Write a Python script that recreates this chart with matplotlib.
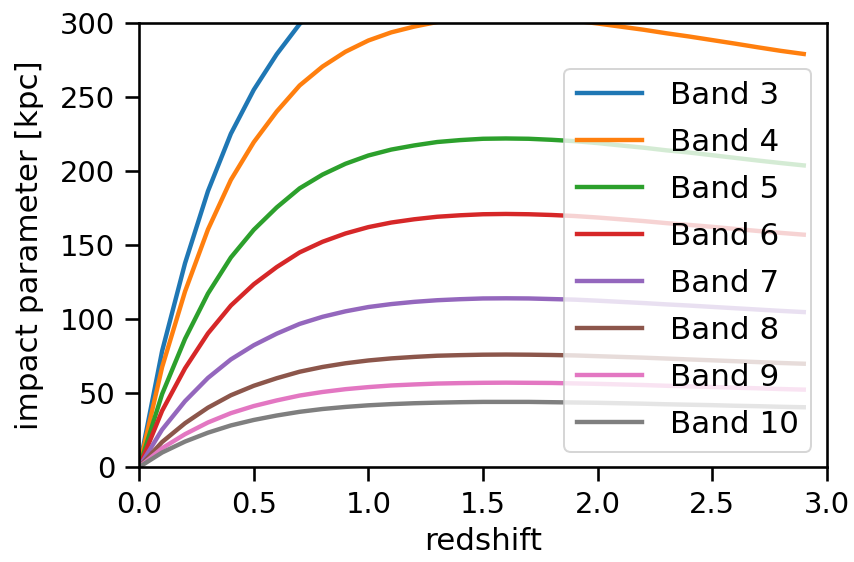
import matplotlib
matplotlib.use("Agg")
import matplotlib.pyplot as plt

# redshift grid of the curves
redshift = [0.0, 0.1, 0.2, 0.3, 0.4, 0.5, 0.6, 0.7, 0.8, 0.9,
            1.0, 1.1, 1.2, 1.3, 1.4, 1.5, 1.6, 1.7, 1.8, 1.9,
            2.0, 2.1, 2.2, 2.3, 2.4, 2.5, 2.6, 2.7, 2.8, 2.9]

# impact parameter [kpc] per ALMA band
band3 = [0, 78.4, 137.7, 186.4, 225.2, 254.9, 278.9, 299.3, 314.2, 325.8,
         334.6, 341.0, 345.6, 349.1, 351.2, 352.6, 353.0, 352.6, 351.6, 350.2,
         348.1, 345.6, 343.1, 340.3, 337.8, 335.0, 332.2, 329.3, 326.5, 324.1]
band4 = [0, 67.5, 118.6, 160.5, 194.0, 219.5, 240.2, 257.8, 270.6, 280.6,
         288.2, 293.7, 297.6, 300.7, 302.5, 303.7, 304.0, 303.7, 302.8, 301.6,
         299.7, 297.6, 295.5, 293.1, 290.9, 288.5, 286.1, 283.6, 281.2, 279.1]
band5 = [0, 49.3, 86.6, 117.2, 141.6, 160.3, 175.4, 188.3, 197.6, 204.9,
         210.5, 214.5, 217.3, 219.6, 220.9, 221.8, 222.0, 221.8, 221.1, 220.2,
         218.9, 217.3, 215.8, 214.0, 212.5, 210.7, 208.9, 207.1, 205.4, 203.8]
band6 = [0, 38.0, 66.7, 90.3, 109.1, 123.5, 135.1, 145.0, 152.2, 157.8,
         162.1, 165.2, 167.4, 169.1, 170.1, 170.8, 171.0, 170.8, 170.3, 169.6,
         168.6, 167.4, 166.2, 164.8, 163.6, 162.3, 160.9, 159.5, 158.2, 157.0]
band7 = [0, 25.3, 44.5, 60.2, 72.7, 82.3, 90.1, 96.7, 101.5, 105.2,
         108.1, 110.1, 111.6, 112.7, 113.4, 113.9, 114.0, 113.9, 113.5, 113.1,
         112.4, 111.6, 110.8, 109.9, 109.1, 108.2, 107.3, 106.4, 105.5, 104.7]
band8 = [0, 16.9, 29.6, 40.1, 48.5, 54.9, 60.0, 64.4, 67.6, 70.1,
         72.0, 73.4, 74.4, 75.2, 75.6, 75.9, 76.0, 75.9, 75.7, 75.4,
         74.9, 74.4, 73.9, 73.3, 72.7, 72.1, 71.5, 70.9, 70.3, 69.8]
band9 = [0, 12.7, 22.2, 30.1, 36.4, 41.2, 45.0, 48.3, 50.7, 52.6,
         54.0, 55.1, 55.8, 56.4, 56.7, 56.9, 57.0, 56.9, 56.8, 56.5,
         56.2, 55.8, 55.4, 54.9, 54.5, 54.1, 53.6, 53.2, 52.7, 52.3]
band10 = [0, 9.8, 17.2, 23.2, 28.1, 31.8, 34.8, 37.3, 39.2, 40.6,
          41.7, 42.5, 43.1, 43.5, 43.8, 44.0, 44.0, 44.0, 43.8, 43.6,
          43.4, 43.1, 42.8, 42.4, 42.1, 41.8, 41.4, 41.1, 40.7, 40.4]

labels = ["Band 3", "Band 4", "Band 5", "Band 6",
          "Band 7", "Band 8", "Band 9", "Band 10"]
series = [band3, band4, band5, band6, band7, band8, band9, band10]

fig = plt.figure(figsize=(854 / 144, 562 / 144), dpi=144)
ax = fig.add_axes([0.163, 0.169, 0.805, 0.790])

for vals, lab in zip(series, labels):
    ax.plot(redshift, vals, lw=2.2, label=lab)

ax.set_xlim(0, 3.0)
ax.set_ylim(0, 300)
ax.set_xlabel("redshift", fontsize=15.5)
ax.set_ylabel("impact parameter [kpc]", fontsize=15.5, labelpad=8)
ax.tick_params(labelsize=14.5, width=1.3, length=7, pad=5)
for s in ax.spines.values():
    s.set_linewidth(1.3)

ax.legend(loc="lower right", fontsize=15.5, handlelength=2.1,
          handletextpad=0.9, labelspacing=0.58, borderaxespad=0.5)

fig.savefig("out.png", dpi=144)
